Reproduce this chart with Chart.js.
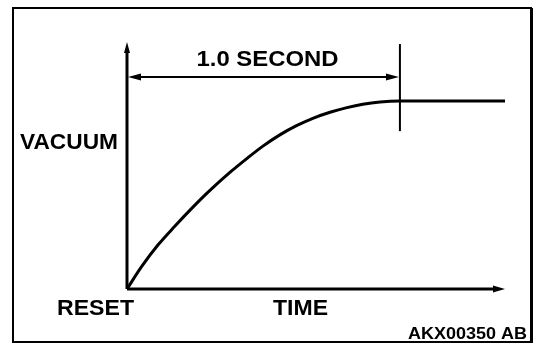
<!DOCTYPE html>
<html>
<head>
<meta charset="utf-8">
<script src="https://cdn.jsdelivr.net/npm/chart.js@4/dist/chart.umd.min.js"></script>
<style>
html,body{margin:0;padding:0;background:#fff;}
#wrap{position:relative;width:560px;height:358px;}
</style>
</head>
<body>
<div id="wrap"><canvas id="c" width="560" height="358"></canvas></div>
<script>
// time in seconds
const timeValues = [0, 0.054, 0.114, 0.176, 0.238, 0.297, 0.377, 0.44, 0.498, 0.56, 0.623, 0.681, 0.744, 0.806, 0.864, 0.927, 1.0, 1.385];
// vacuum (relative, 1 = settled level)
const vacuumValues = [0, 0.12, 0.235, 0.335, 0.43, 0.515, 0.62, 0.695, 0.76, 0.82, 0.87, 0.908, 0.94, 0.965, 0.983, 0.995, 1.0, 1.0];
const axisLabels = { y: "VACUUM", xStart: "RESET", x: "TIME" };
const spanLabel = "1.0 SECOND";
const spanStart = 0, spanEnd = 1.0;
const figureCode = "AKX00350 AB";

const points = timeValues.map((t, i) => ({ x: t, y: vacuumValues[i] }));

function arrow(ctx, tx, ty, dir, len, half) {
  ctx.beginPath();
  if (dir === 'up') { ctx.moveTo(tx, ty); ctx.lineTo(tx - half, ty + len); ctx.lineTo(tx + half, ty + len); }
  if (dir === 'right') { ctx.moveTo(tx, ty); ctx.lineTo(tx - len, ty - half); ctx.lineTo(tx - len, ty + half); }
  if (dir === 'left') { ctx.moveTo(tx, ty); ctx.lineTo(tx + len, ty - half); ctx.lineTo(tx + len, ty + half); }
  ctx.closePath(); ctx.fill();
}
function fitText(ctx, text, x, y, width, font, align) {
  ctx.save();
  ctx.font = font;
  const w = ctx.measureText(text).width;
  const s = width / w;
  let x0 = x;
  if (align === 'center') x0 = x - width / 2;
  if (align === 'right') x0 = x - width;
  ctx.translate(x0, y);
  ctx.scale(s, 1);
  ctx.textAlign = 'left';
  ctx.textBaseline = 'alphabetic';
  ctx.fillText(text, 0, 0);
  ctx.restore();
}

const decor = {
  id: 'decor',
  afterDraw(chart) {
    const ctx = chart.ctx;
    const xs = chart.scales.x, ys = chart.scales.y;
    const x0 = xs.getPixelForValue(0), y0 = ys.getPixelForValue(0);
    const xEnd = xs.getPixelForValue(xs.max), yTop = ys.getPixelForValue(ys.max);
    ctx.save();
    ctx.fillStyle = '#000'; ctx.strokeStyle = '#000';
    // frame
    ctx.lineWidth = 2;
    ctx.strokeRect(13, 8, 518, 334);
    ctx.fillRect(530, 8, 3, 335);
    // axes
    ctx.lineWidth = 3;
    ctx.beginPath(); ctx.moveTo(x0, y0); ctx.lineTo(x0, yTop + 8); ctx.stroke();
    arrow(ctx, x0, yTop, 'up', 11, 3);
    ctx.beginPath(); ctx.moveTo(x0, y0); ctx.lineTo(xEnd - 8, y0); ctx.stroke();
    arrow(ctx, xEnd, y0, 'right', 12, 3.5);
    // span dimension
    const sx0 = xs.getPixelForValue(spanStart), sx1 = xs.getPixelForValue(spanEnd);
    const sy = ys.getPixelForValue(1.128);
    ctx.lineWidth = 2;
    ctx.beginPath(); ctx.moveTo(sx0 + 6, sy); ctx.lineTo(sx1 - 6, sy); ctx.stroke();
    arrow(ctx, sx0 + 1, sy, 'left', 13, 3.5);
    arrow(ctx, sx1 - 1, sy, 'right', 13, 3.5);
    ctx.beginPath(); ctx.moveTo(sx1, ys.getPixelForValue(1.303)); ctx.lineTo(sx1, ys.getPixelForValue(0.84)); ctx.stroke();
    // texts
    const f = 'bold 22px "Liberation Sans", Arial, sans-serif';
    fitText(ctx, spanLabel, (sx0 + sx1) / 2 + 4, 66, 142, f, 'center');
    fitText(ctx, axisLabels.y, 20, 149, 98, f, 'left');
    fitText(ctx, axisLabels.xStart, 57, 315, 77, f, 'left');
    fitText(ctx, axisLabels.x, 273, 315, 55, f, 'left');
    fitText(ctx, figureCode, 408, 339, 119, 'bold 17px "Liberation Sans", Arial, sans-serif', 'left');
    ctx.restore();
  }
};

new Chart(document.getElementById('c'), {
  type: 'scatter',
  data: {
    datasets: [{
      data: points,
      showLine: true,
      borderColor: '#000',
      borderWidth: 3,
      pointRadius: 0,
      cubicInterpolationMode: 'monotone',
      fill: false
    }]
  },
  options: {
    responsive: false,
    animation: false,
    events: [],
    layout: { padding: { left: 127, right: 55, top: 42, bottom: 69 } },
    plugins: { legend: { display: false }, tooltip: { enabled: false } },
    scales: {
      x: { type: 'linear', min: 0, max: 1.385, display: false },
      y: { type: 'linear', min: 0, max: 1.314, display: false }
    }
  },
  plugins: [decor]
});
</script>
</body>
</html>
